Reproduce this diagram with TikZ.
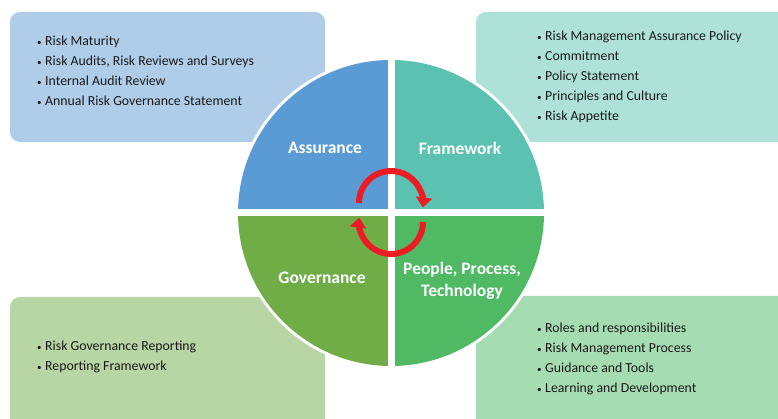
\documentclass[tikz,border=0pt]{standalone}
\usepackage{fontspec}
\setmainfont{Carlito}
\usetikzlibrary{arrows.meta}
\definecolor{assurance}{RGB}{91,155,213}
\definecolor{framework}{RGB}{91,194,177}
\definecolor{governance}{RGB}{112,173,71}
\definecolor{people}{RGB}{79,185,100}
\definecolor{boxTL}{RGB}{175,205,233}
\definecolor{boxTR}{RGB}{174,226,216}
\definecolor{boxBL}{RGB}{184,214,164}
\definecolor{boxBR}{RGB}{166,220,178}
\definecolor{cycle}{RGB}{237,28,36}
\definecolor{ink}{RGB}{25,25,25}
\newcommand{\itm}{\makebox[8pt][l]{\raisebox{0.5pt}{\fontsize{9}{9}\selectfont\textbullet}}}
\tikzset{
  x=1pt, y=1pt,
  panel/.style={rounded corners=10pt},
  bullets/.style={anchor=north west, align=left, text=ink, font=\fontsize{13.8}{20}\selectfont, inner sep=0pt},
  quadlabel/.style={text=white, font=\fontsize{17.5}{22}\selectfont\bfseries, align=center},
  cyclearrow/.style={draw=cycle, line width=6pt, -{Triangle[width=16pt,length=10pt]}}
}
\begin{document}
\begin{tikzpicture}
\useasboundingbox (0,0) rectangle (778,419);
\begin{scope}
\clip (0,0) rectangle (778,419);
% corner panels
\fill[boxTL, panel] (10,277) rectangle (325,407);
\fill[boxTR, panel] (476,277) rectangle (800,407);
\fill[boxBL, panel] (10,-20) rectangle (325,122);
\fill[boxBR, panel] (476,-20) rectangle (800,123);
% central wheel
\coordinate (c) at (391,206);
\fill[white] (c) circle (156);
\fill[assurance] (c) -- ++(180:153) arc (180:90:153) -- cycle;
\fill[framework] (c) -- ++(90:153) arc (90:0:153) -- cycle;
\fill[people] (c) -- ++(0:153) arc (0:-90:153) -- cycle;
\fill[governance] (c) -- ++(-90:153) arc (-90:-180:153) -- cycle;
\draw[white, line width=7pt] ([xshift=-160]c) -- ([xshift=160]c);
\draw[white, line width=7pt] ([yshift=-160]c) -- ([yshift=160]c);
\end{scope}
% quadrant titles
\node[quadlabel] (qa) at (325,271) {Assurance};
\node[quadlabel] (qf) at (460,271) {Framework};
\node[quadlabel] (qg) at (322,141) {Governance};
\node[quadlabel] (qp) at (462,138) {People, Process,\\Technology};
% cycle arrows
\coordinate (up) at (391,216);
\coordinate (dn) at (391,197);
\draw[cyclearrow] ([shift={(180:32)}]up) arc (180:-8:32);
\draw[cyclearrow] ([shift={(0:32)}]dn) arc (0:-188:32);
% panel lists
\node[bullets] (la) at (37,383) {\itm Risk Maturity\\\itm Risk Audits, Risk Reviews and Surveys\\\itm Internal Audit Review\\\itm Annual Risk Governance Statement};
\node[bullets] (lf) at (537,388) {\itm Risk Management Assurance Policy\\\itm Commitment\\\itm Policy Statement\\\itm Principles and Culture\\\itm Risk Appetite};
\node[bullets] (lg) at (37,78) {\itm Risk Governance Reporting\\\itm Reporting Framework};
\node[bullets] (lp) at (537,96) {\itm Roles and responsibilities\\\itm Risk Management Process\\\itm Guidance and Tools\\\itm Learning and Development};
\end{tikzpicture}
\end{document}
